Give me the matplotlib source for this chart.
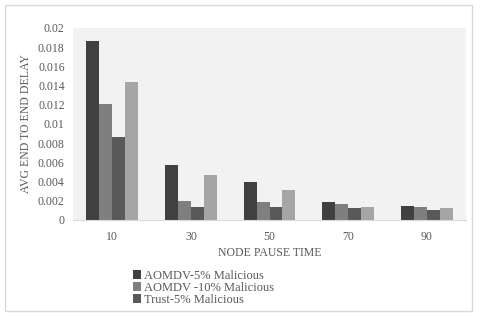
import matplotlib
matplotlib.use("Agg")
import matplotlib.pyplot as plt
import numpy as np
from matplotlib.patches import Rectangle, Patch

categories = ["10", "30", "50", "70", "90"]
aomdv5 = [0.0186, 0.0057, 0.0040, 0.0019, 0.0015]
aomdv10 = [0.0121, 0.0020, 0.0019, 0.0017, 0.0014]
trust5 = [0.0086, 0.0014, 0.0014, 0.0012, 0.0010]
series4 = [0.0144, 0.0047, 0.0031, 0.0014, 0.0012]
labels = ["AOMDV-5% Malicious", "AOMDV -10% Malicious", "Trust-5% Malicious"]
yticks = [0, 0.002, 0.004, 0.006, 0.008, 0.01, 0.012, 0.014, 0.016, 0.018, 0.02]
ytick_labels = ["0", "0.002", "0.004", "0.006", "0.008", "0.01", "0.012", "0.014", "0.016", "0.018", "0.02"]

colors = ["#404040", "#7f7f7f", "#595959", "#a5a5a5"]
W, H = 480, 319
fig = plt.figure(figsize=(4.8, 3.19), dpi=100)
fig.patch.set_facecolor("white")
plt.rcParams['font.family'] = ['Liberation Serif', 'DejaVu Serif']
tc = "#595959"

ax = fig.add_axes([73 / W, 1 - 220 / H, (466 - 73) / W, (220 - 28) / H])
ax.set_facecolor("#f2f2f2")
x = np.arange(len(categories))
bw = 0.165
allser = [aomdv5, aomdv10, trust5, series4]
for i, s in enumerate(allser):
    ax.bar(x + (i - 1.5) * bw, s, width=bw, color=colors[i], linewidth=0)
ax.set_xlim(-0.5, len(categories) - 0.5)
ax.set_ylim(0, 0.02)
ax.set_yticks(yticks)
ax.set_yticklabels(ytick_labels)
ax.set_xticks(x)
ax.set_xticklabels(categories)
for sp in ["top", "right", "left"]:
    ax.spines[sp].set_visible(False)
ax.spines["bottom"].set_color("#d9d9d9")
ax.tick_params(axis="both", length=0, labelsize=8.5, colors=tc)
ax.tick_params(axis="y", pad=6)
ax.tick_params(axis="x", pad=8)
ax.set_xlabel("NODE PAUSE TIME", fontsize=8.5, color=tc, labelpad=3)
ax.set_ylabel("AVG END TO END DELAY", fontsize=8.5, color=tc, labelpad=4)

handles = [Patch(facecolor=colors[i], edgecolor="none") for i in range(3)]
leg = fig.legend(handles, labels, loc="upper left", bbox_to_anchor=(133 / W, 1 - 270 / H),
                 frameon=False, fontsize=9, handlelength=0.65, handleheight=0.65,
                 handletextpad=0.2, labelspacing=0.0, borderaxespad=0, borderpad=0)
for t in leg.get_texts():
    t.set_color(tc)

fig.add_artist(Rectangle((5 / W, 1 - 311 / H), (472 - 5) / W, (311 - 5) / H,
                         transform=fig.transFigure, fill=False, edgecolor="#d9d9d9", linewidth=1))
fig.savefig("out.png", dpi=100)
